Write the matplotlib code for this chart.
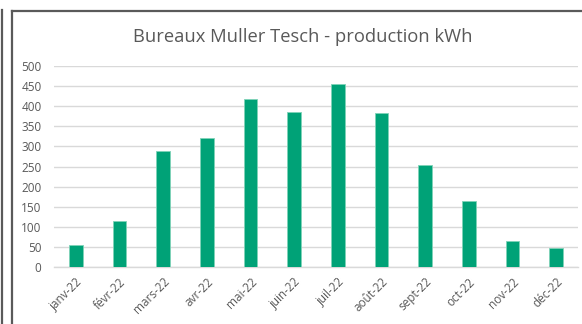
import numpy as np
import matplotlib
matplotlib.use("Agg")
import matplotlib.pyplot as plt
from matplotlib.lines import Line2D

months = ["janv-22", "févr-22", "mars-22", "avr-22", "mai-22", "juin-22",
          "juil-22", "août-22", "sept-22", "oct-22", "nov-22", "déc-22"]
production = [55, 114, 288, 321, 417, 385, 455, 384, 253, 164, 65, 47]
yticks = [0, 50, 100, 150, 200, 250, 300, 350, 400, 450, 500]

W, H = 582, 324
plt.rcParams['font.family'] = ['Open Sans', 'DejaVu Sans']
fig = plt.figure(figsize=(W / 100, H / 100), dpi=100)

ax = fig.add_axes([54 / W, (H - 267) / H, (578 - 54) / W, 201 / H])
x = np.arange(len(months))
ax.bar(x, production, width=0.32, color="#00a277", edgecolor="#7fd3b8",
       linewidth=0.6, zorder=3)

ax.set_xlim(-0.5, len(months) - 0.5)
ax.set_ylim(0, 500)
ax.set_yticks(yticks)
ax.set_xticks(x)
ax.set_xticklabels(months, rotation=45, ha="right", rotation_mode="anchor")
ax.tick_params(axis="both", length=0, colors="#595959", labelsize=8.5)
ax.tick_params(axis="y", pad=9)
ax.tick_params(axis="x", pad=6)
ax.grid(axis="y", color="#d9d9d9", linewidth=1, zorder=0)
for side in ["top", "right", "left"]:
    ax.spines[side].set_visible(False)
ax.spines["bottom"].set_color("#d9d9d9")
ax.spines["bottom"].set_linewidth(1)

fig.text(303 / W, 1 - 37 / H, "Bureaux Muller Tesch - production kWh",
         ha="center", va="center", fontsize=13.2, color="#595959")

# frame lines around the chart area
def fline(xs, ys):
    fig.add_artist(Line2D([v / W for v in xs], [1 - v / H for v in ys],
                          color="#5a5a5a", linewidth=1.6,
                          transform=fig.transFigure))

fline([2, 2], [10, H])
fline([11.5, 11.5], [11, H])
fline([11.5, W], [11, 11])

fig.savefig("out.png", dpi=100)
